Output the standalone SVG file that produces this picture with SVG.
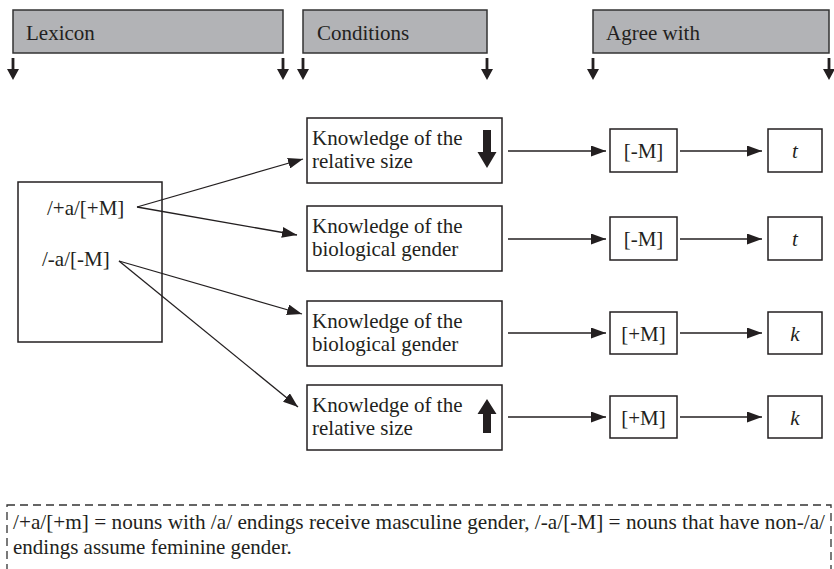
<svg xmlns="http://www.w3.org/2000/svg" width="834" height="569" viewBox="0 0 834 569">
<style>
text{font-family:"Liberation Serif","Times New Roman",serif;font-size:21px;fill:#231f20}
.hdr{fill:#b2b3b6;stroke:#333;stroke-width:1.5}
.box{fill:#fff;stroke:#231f20;stroke-width:1.5}
.ln{stroke:#231f20;stroke-width:1.3;fill:none}
.it{font-style:italic}
.dash{fill:none;stroke:#333;stroke-width:1.3;stroke-dasharray:8 5}
.blk{fill:#231f20}
</style>
<defs>
<marker id="ah" viewBox="0 0 15 11" refX="15" refY="5.5" markerWidth="15" markerHeight="11" markerUnits="userSpaceOnUse" orient="auto">
<path d="M0,0 L15,5.5 L0,11 z" fill="#231f20"/>
</marker>
<path id="sdown" d="M-1.4,0 h2.8 v11 h4.6 l-6,11 l-6,-11 h4.6 z"/>
</defs>

<g id="header-lexicon">
<rect class="hdr" x="13" y="10" width="270" height="43"/>
<text x="26" y="40">Lexicon</text>
</g>
<g id="header-conditions">
<rect class="hdr" x="303" y="10" width="184" height="43"/>
<text x="317" y="40">Conditions</text>
</g>
<g id="header-agree">
<rect class="hdr" x="593" y="10" width="236" height="43"/>
<text x="606" y="40">Agree with</text>
</g>

<g id="span-arrows" class="blk">
<use href="#sdown" x="13" y="58"/>
<use href="#sdown" x="283" y="58"/>
<use href="#sdown" x="303" y="58"/>
<use href="#sdown" x="487" y="58"/>
<use href="#sdown" x="593" y="58"/>
<use href="#sdown" x="829" y="58"/>
</g>

<g id="lexicon">
<rect class="box" x="18" y="182" width="144" height="160"/>
<text x="47" y="215">/+a/[+M]</text>
<text x="42" y="266">/-a/[-M]</text>
</g>

<g id="cond1">
<rect class="box" x="307" y="118" width="195" height="65"/>
<text x="312" y="145">Knowledge of the</text>
<text x="312" y="168">relative size</text>
<path class="blk" d="M483,130 h8 v22 h5.5 l-9.5,16 l-9.5,-16 h5.5 z"/>
</g>
<g id="cond2">
<rect class="box" x="307" y="206" width="195" height="65"/>
<text x="312" y="233">Knowledge of the</text>
<text x="312" y="256">biological gender</text>
</g>
<g id="cond3">
<rect class="box" x="307" y="301" width="195" height="65"/>
<text x="312" y="328">Knowledge of the</text>
<text x="312" y="351">biological gender</text>
</g>
<g id="cond4">
<rect class="box" x="307" y="385" width="195" height="65"/>
<text x="312" y="412">Knowledge of the</text>
<text x="312" y="435">relative size</text>
<path class="blk" d="M483,433 h8 v-19 h5.5 l-9.5,-15 l-9.5,15 h5.5 z"/>
</g>

<g id="agr1"><rect class="box" x="610" y="129" width="67" height="43"/><text x="643.5" y="158" text-anchor="middle">[-M]</text></g>
<g id="agr2"><rect class="box" x="610" y="217" width="67" height="43"/><text x="643.5" y="246" text-anchor="middle">[-M]</text></g>
<g id="agr3"><rect class="box" x="610" y="312" width="67" height="42"/><text x="643.5" y="341" text-anchor="middle">[+M]</text></g>
<g id="agr4"><rect class="box" x="610" y="396" width="67" height="42"/><text x="643.5" y="425" text-anchor="middle">[+M]</text></g>

<g id="out1"><rect class="box" x="768" y="129" width="54" height="43"/><text class="it" x="795" y="158" text-anchor="middle">t</text></g>
<g id="out2"><rect class="box" x="768" y="217" width="54" height="43"/><text class="it" x="795" y="246" text-anchor="middle">t</text></g>
<g id="out3"><rect class="box" x="768" y="312" width="54" height="42"/><text class="it" x="795" y="341" text-anchor="middle">k</text></g>
<g id="out4"><rect class="box" x="768" y="396" width="54" height="42"/><text class="it" x="795" y="425" text-anchor="middle">k</text></g>

<g id="connectors" class="ln" marker-end="url(#ah)">
<line x1="137" y1="207" x2="303" y2="159"/>
<line x1="137" y1="207" x2="297" y2="235"/>
<line x1="119" y1="261" x2="302" y2="314"/>
<line x1="119" y1="261" x2="298" y2="407"/>
<line x1="508" y1="151" x2="606" y2="151"/>
<line x1="680" y1="151" x2="762" y2="151"/>
<line x1="508" y1="239" x2="606" y2="239"/>
<line x1="680" y1="239" x2="762" y2="239"/>
<line x1="508" y1="333" x2="606" y2="333"/>
<line x1="680" y1="333" x2="762" y2="333"/>
<line x1="508" y1="417" x2="606" y2="417"/>
<line x1="680" y1="417" x2="762" y2="417"/>
</g>

<g id="footnote">
<rect class="dash" x="7" y="505" width="824" height="100"/>
<text x="13" y="529" textLength="812" lengthAdjust="spacingAndGlyphs">/+a/[+m] = nouns with /a/ endings receive masculine gender, /-a/[-M] = nouns that have non-/a/</text>
<text x="13" y="554">endings assume feminine gender.</text>
</g>
</svg>
